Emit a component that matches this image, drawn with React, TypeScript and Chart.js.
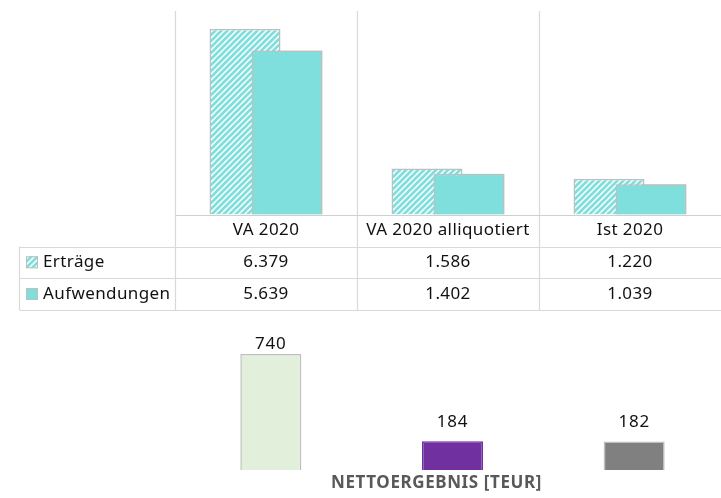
import React, { useEffect, useRef } from "react";
import { Chart, registerables } from "chart.js";

Chart.register(...registerables);

// ---- data ----
const categories = ["VA 2020", "VA 2020 alliquotiert", "Ist 2020"];
const seriesNames = ["Erträge", "Aufwendungen"];
const ertraege = [6379, 1586, 1220];
const aufwendungen = [5639, 1402, 1039];
const netValues = [740, 184, 182];
const netTitle = "NETTOERGEBNIS [TEUR]";
const topAxisMax = 7000;
const netAxisMax = 800;

// ---- styles ----
const TEAL = "#7FDFDD";
const BORDER = "#BFBFBF";
const GRID = "#D9D9D9";
const TEXT = "#111111";
const FONT = "'Noto Sans', sans-serif";
const netColors = ["#E2EFDA", "#7030A0", "#808080"];
const netBorders = [BORDER, "#7030A0", BORDER];

function fmt(v: number): string {
  const s = String(Math.round(v));
  return s.replace(/\B(?=(\d{3})+(?!\d))/g, ".");
}

function makeHatch(): CanvasPattern | string {
  const c = document.createElement("canvas");
  c.width = 6;
  c.height = 6;
  const g = c.getContext("2d");
  if (!g) return TEAL;
  g.fillStyle = "#ffffff";
  g.fillRect(0, 0, 6, 6);
  g.strokeStyle = TEAL;
  g.lineWidth = 2.7;
  g.beginPath();
  g.moveTo(-1, 7);
  g.lineTo(7, -1);
  g.moveTo(-3, 3);
  g.lineTo(3, -3);
  g.moveTo(3, 9);
  g.lineTo(9, 3);
  g.stroke();
  return g.createPattern(c, "repeat") || TEAL;
}

function setSpacing(ctx: any, px: number) {
  if ("letterSpacing" in ctx) ctx.letterSpacing = `${px}px`;
}

const tablePlugin = {
  id: "dataTable",
  afterDatasetsDraw(chart: any) {
    // draw the second series on top of the first so the bars overlap like the original
    const meta = chart.getDatasetMeta(1);
    meta.data.forEach((el: any) => el.draw(chart.ctx));
  },
  afterDraw(chart: any) {
    const ctx: CanvasRenderingContext2D = chart.ctx;
    const xs = chart.scales.x;
    const area = chart.chartArea;
    const n = categories.length;
    const cw = (area.right - area.left) / n;
    const y0 = area.bottom;
    const y1 = y0 + 32;
    const y2 = y1 + 31.5;
    const y3 = y2 + 32;
    const labelLeft = 19.5;
    const hatch = chart.data.datasets[0].backgroundColor;

    ctx.save();
    ctx.strokeStyle = GRID;
    ctx.lineWidth = 1.2;
    for (let i = 0; i < n; i++) {
      const x = Math.round(xs.getPixelForValue(i) - cw / 2) + 0.5;
      ctx.beginPath();
      ctx.moveTo(x, area.top);
      ctx.lineTo(x, y3);
      ctx.stroke();
    }
    ctx.beginPath();
    ctx.moveTo(labelLeft, y1);
    ctx.lineTo(labelLeft, y3);
    ctx.stroke();
    const hl = (y: number, x0: number) => {
      const yy = Math.round(y) + 0.5;
      ctx.beginPath();
      ctx.moveTo(x0, yy);
      ctx.lineTo(chart.width, yy);
      ctx.stroke();
    };
    ctx.strokeStyle = "#CFCFCF";
    hl(y0, area.left);
    ctx.strokeStyle = GRID;
    hl(y1, labelLeft);
    hl(y2, labelLeft);
    hl(y3, labelLeft);

    ctx.fillStyle = TEXT;
    ctx.font = `17px ${FONT}`;
    setSpacing(ctx, 0.4);
    ctx.textAlign = "center";
    ctx.textBaseline = "middle";
    for (let i = 0; i < n; i++) {
      const x = xs.getPixelForValue(i);
      ctx.fillText(categories[i], x, (y0 + y1) / 2);
      ctx.fillText(fmt(ertraege[i]), x, (y1 + y2) / 2);
      ctx.fillText(fmt(aufwendungen[i]), x, (y2 + y3) / 2);
    }

    const rows = [
      { name: seriesNames[0], fill: hatch, y: (y1 + y2) / 2 },
      { name: seriesNames[1], fill: TEAL, y: (y2 + y3) / 2 },
    ];
    rows.forEach((r) => {
      ctx.fillStyle = r.fill;
      ctx.fillRect(26, r.y - 6, 12, 12);
      ctx.strokeStyle = BORDER;
      ctx.lineWidth = 1;
      ctx.strokeRect(26.5, r.y - 5.5, 11, 11);
      ctx.fillStyle = TEXT;
      ctx.textAlign = "left";
      ctx.fillText(r.name, 43, r.y);
    });
    ctx.restore();
  },
};

const netPlugin = {
  id: "netLabels",
  afterDatasetsDraw(chart: any) {
    const ctx: CanvasRenderingContext2D = chart.ctx;
    const area = chart.chartArea;
    const meta = chart.getDatasetMeta(0);
    ctx.save();
    ctx.fillStyle = TEXT;
    ctx.font = `17px ${FONT}`;
    setSpacing(ctx, 0.8);
    ctx.textAlign = "center";
    ctx.textBaseline = "middle";
    meta.data.forEach((el: any, i: number) => {
      const y = Math.max(el.y - 19, area.top);
      ctx.fillText(fmt(netValues[i]), el.x, y);
    });
    ctx.fillStyle = "#595959";
    ctx.font = `bold 17px ${FONT}`;
    setSpacing(ctx, 0.6);
    ctx.fillText(netTitle, 436.5, 163);
    ctx.restore();
  },
};

export default function App() {
  const topRef = useRef<HTMLCanvasElement>(null);
  const botRef = useRef<HTMLCanvasElement>(null);

  useEffect(() => {
    if (!topRef.current || !botRef.current) return;
    const hatch = makeHatch();
    const top = new Chart(topRef.current, {
      type: "bar",
      data: {
        labels: categories,
        datasets: [
          {
            label: seriesNames[0],
            data: ertraege,
            backgroundColor: hatch as any,
            borderColor: BORDER,
            borderWidth: 1.5,
          },
          {
            label: seriesNames[1],
            data: aufwendungen,
            backgroundColor: TEAL,
            borderColor: BORDER,
            borderWidth: 1.5,
          },
        ],
      },
      options: {
        responsive: false,
        animation: false,
        datasets: { bar: { categoryPercentage: 0.4615, barPercentage: 1.69 } },
        layout: { padding: { left: 175, right: 0, top: 11, bottom: 105.5 } },
        scales: {
          x: { display: false },
          y: { display: false, min: 0, max: topAxisMax },
        },
        plugins: { legend: { display: false }, tooltip: { enabled: false }, title: { display: false } },
      },
      plugins: [tablePlugin],
    });
    const bot = new Chart(botRef.current, {
      type: "bar",
      data: {
        labels: categories,
        datasets: [
          {
            label: netTitle,
            data: netValues,
            backgroundColor: netColors,
            borderColor: netBorders,
            borderWidth: 1.5,
          },
        ],
      },
      options: {
        responsive: false,
        animation: false,
        datasets: { bar: { categoryPercentage: 1, barPercentage: 0.336 } },
        layout: { padding: { left: 180, right: 0, top: 24.6, bottom: 28 } },
        scales: {
          x: { display: false },
          y: { display: false, min: 0, max: netAxisMax },
        },
        plugins: { legend: { display: false }, tooltip: { enabled: false } },
      },
      plugins: [netPlugin],
    });
    return () => {
      top.destroy();
      bot.destroy();
    };
  }, []);

  return (
    <div
      style={{
        position: "fixed",
        left: 0,
        top: 0,
        width: 721,
        height: 498,
        overflow: "hidden",
        background: "#ffffff",
      }}
    >
      <canvas
        ref={topRef}
        width={721}
        height={320}
        style={{ position: "absolute", left: 0, top: 0, display: "block" }}
      />
      <canvas
        ref={botRef}
        width={725}
        height={178}
        style={{ position: "absolute", left: 0, top: 320, display: "block" }}
      />
    </div>
  );
}
